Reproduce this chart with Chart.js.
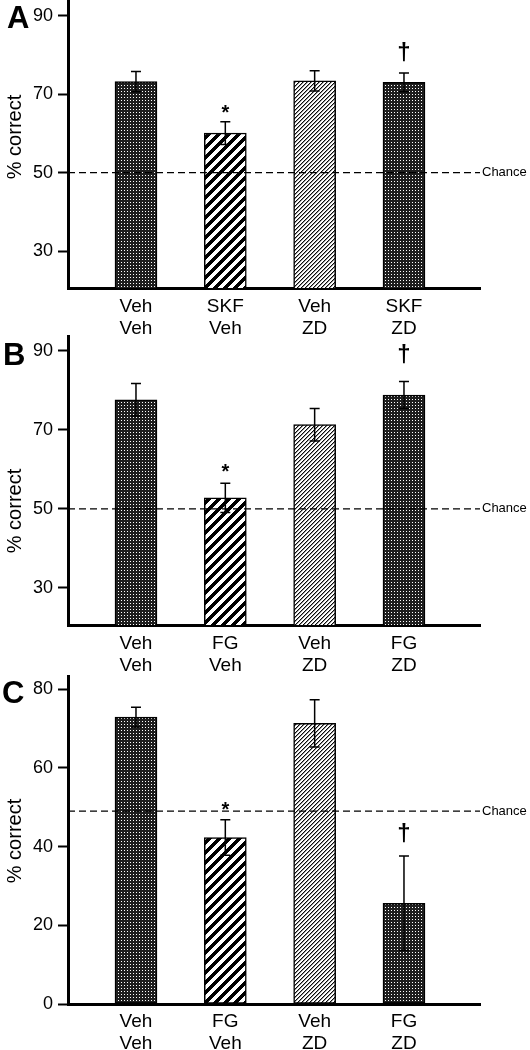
<!DOCTYPE html>
<html><head><meta charset="utf-8">
<script src="https://cdn.jsdelivr.net/npm/chart.js@4.4.1/dist/chart.umd.min.js"></script>
<style>
html,body{margin:0;padding:0;background:#fff;width:530px;height:1050px;overflow:hidden;}
canvas{position:absolute;left:0;}
</style></head><body>
<canvas id="cA" width="530" height="340" style="top:0px"></canvas>
<canvas id="cB" width="530" height="342" style="top:335px"></canvas>
<canvas id="cC" width="530" height="375" style="top:675px"></canvas>
<script>
// ---- data ----
const xPositions = [1, 2, 3, 4];
const labelsA = [["Veh","Veh"],["SKF","Veh"],["Veh","ZD"],["SKF","ZD"]];
const labelsB = [["Veh","Veh"],["FG","Veh"],["Veh","ZD"],["FG","ZD"]];
const labelsC = [["Veh","Veh"],["FG","Veh"],["Veh","ZD"],["FG","ZD"]];
const meansA = [73.2, 60.1, 73.4, 73.0];
const semA   = [2.6, 2.9, 2.6, 2.4];
const meansB = [77.6, 52.8, 71.3, 78.8];
const semB   = [4.1, 3.7, 4.1, 3.4];
const meansC = [72.9, 42.3, 71.3, 25.6];
const semC   = [2.5, 4.5, 6.0, 12.0];
const yTicksAB = [30, 50, 70, 90];
const yTicksC  = [0, 20, 40, 60, 80];
const chanceLevels = [50, 50, 49];
const markSymbols = ["", "*", "", "\u2020"];
const markA = [null, 66.7, null, 80.5];
const markB = [null, 60.6, null, 88.9];
const markC = [null, 50.6, null, 43.2];
const barPatterns = ["dots", "stripes", "hatch", "dots"];

const FONT = '"Liberation Sans", Arial, Helvetica, sans-serif';

function makePattern(ctx, type){
  const n = type === 'dots' ? 3 : (type === 'stripes' ? 10 : 4);
  const c = document.createElement('canvas');
  c.width = n; c.height = n;
  const g = c.getContext('2d');
  const img = g.createImageData(n, n);
  for (let y = 0; y < n; y++) for (let x = 0; x < n; x++) {
    let v;
    const d = (x + y) % n;
    if (type === 'dots') v = (x === 1 && y === 1) ? 255 : 30;
    else if (type === 'stripes') v = (d < 5) ? 0 : 255;
    else v = (d === 0) ? 10 : (d === 1 ? 150 : 255);
    const i = (y * n + x) * 4;
    img.data[i] = img.data[i+1] = img.data[i+2] = v; img.data[i+3] = 255;
  }
  g.putImageData(img, 0, 0);
  return ctx.createPattern(c, 'repeat');
}

const panelPlugin = {
  id: 'panel',
  afterDatasetsDraw(chart, args, o) {
    const ctx = chart.ctx;
    const {left, right} = chart.chartArea;
    const ys = chart.scales.y, xs = chart.scales.x;
    ctx.save();
    ctx.strokeStyle = '#000';
    ctx.lineWidth = 1.5;
    o.means.forEach((m, i) => {
      const x = xs.getPixelForValue(xPositions[i]);
      const yt = ys.getPixelForValue(m + o.sem[i]);
      const yb = ys.getPixelForValue(m - o.sem[i]);
      ctx.beginPath();
      ctx.moveTo(x, yt); ctx.lineTo(x, yb);
      ctx.moveTo(x - 5, yt); ctx.lineTo(x + 5, yt);
      ctx.moveTo(x - 5, yb); ctx.lineTo(x + 5, yb);
      ctx.stroke();
    });
    const yc = ys.getPixelForValue(o.chance);
    ctx.setLineDash([7, 4]);
    ctx.lineWidth = 1.3;
    ctx.beginPath(); ctx.moveTo(left, yc); ctx.lineTo(right, yc); ctx.stroke();
    ctx.setLineDash([]);
    ctx.fillStyle = '#000';
    ctx.font = '13px ' + FONT;
    ctx.textAlign = 'left'; ctx.textBaseline = 'middle';
    ctx.fillText('Chance', right + 2, yc);
    // significance marks
    ctx.textAlign = 'center'; ctx.textBaseline = 'alphabetic';
    o.marks.forEach((v, i) => {
      if (v === null) return;
      const x = xs.getPixelForValue(xPositions[i]);
      const y = ys.getPixelForValue(v);
      const s = markSymbols[i];
      if (s === '*') { ctx.font = 'bold 20px ' + FONT; ctx.fillText(s, x, y + 0.575 * 20); }
      else { ctx.font = 'bold 24px ' + FONT; ctx.fillText(s, x, y + 0.29 * 24); }
    });
    ctx.restore();
  },
  afterDraw(chart, args, o) {
    const ctx = chart.ctx;
    ctx.save();
    ctx.fillStyle = '#000';
    ctx.font = 'bold 31px ' + FONT;
    ctx.textAlign = 'left'; ctx.textBaseline = 'alphabetic';
    ctx.fillText(o.letter, o.letterX, o.letterY);
    ctx.translate(15, o.titleY);
    ctx.rotate(-Math.PI / 2);
    ctx.font = '20px ' + FONT;
    ctx.textAlign = 'center'; ctx.textBaseline = 'middle';
    ctx.fillText('% correct', 0, 0);
    ctx.restore();
  }
};

function buildChart(id, cfg) {
  const canvas = document.getElementById(id);
  const ctx = canvas.getContext('2d');
  const bg = barPatterns.map(t => makePattern(ctx, t));
  return new Chart(ctx, {
    type: 'bar',
    data: {
      datasets: [{
        data: xPositions.map((x, i) => ({x: x, y: cfg.means[i]})),
        backgroundColor: bg,
        borderColor: '#000',
        borderWidth: 1.5,
        borderSkipped: false,
        barThickness: 42
      }]
    },
    options: {
      responsive: false,
      animation: false,
      layout: {padding: {left: 0, right: 50, top: 0, bottom: 0}},
      plugins: {
        legend: {display: false},
        tooltip: {enabled: false},
        panel: {
          means: cfg.means, sem: cfg.sem, chance: cfg.chance, marks: cfg.marks,
          letter: cfg.letter, letterX: cfg.letterX, letterY: cfg.letterY, titleY: cfg.titleY
        }
      },
      scales: {
        x: {
          type: 'linear', min: 0.239, max: 4.851, offset: false,
          afterBuildTicks: s => { s.ticks = xPositions.map(v => ({value: v})); },
          afterFit: s => { s.height = cfg.xHeight; s.paddingLeft = 0; s.paddingRight = 0; },
          grid: {display: false, drawTicks: false, offset: false},
          border: {display: true, color: '#000', width: 3},
          ticks: {
            color: '#000', font: {family: FONT, size: 19, lineHeight: 1.2},
            padding: cfg.xPad, maxRotation: 0, autoSkip: false,
            callback: v => cfg.labels[xPositions.indexOf(v)]
          }
        },
        y: {
          min: cfg.yMin, max: cfg.yMax,
          afterBuildTicks: s => { s.ticks = cfg.yTicks.map(v => ({value: v})); },
          afterFit: s => { s.width = 68; s.paddingTop = 0; s.paddingBottom = 0; },
          grid: {display: true, drawOnChartArea: false, drawTicks: true, tickLength: 10, tickWidth: 2, tickColor: '#000'},
          border: {display: true, color: '#000', width: 3},
          ticks: {color: '#000', font: {family: FONT, size: 18}, padding: 5}
        }
      }
    },
    plugins: [panelPlugin]
  });
}

buildChart('cA', {labels: labelsA, means: meansA, sem: semA, chance: chanceLevels[0], marks: markA,
  yMin: 20.6, yMax: 94, yTicks: yTicksAB, xHeight: 52, xPad: 7,
  letter: 'A', letterX: 7, letterY: 28, titleY: 137});
buildChart('cB', {labels: labelsB, means: meansB, sem: semB, chance: chanceLevels[1], marks: markB,
  yMin: 20.6, yMax: 94, yTicks: yTicksAB, xHeight: 52, xPad: 7,
  letter: 'B', letterX: 3, letterY: 30, titleY: 176});
buildChart('cC', {labels: labelsC, means: meansC, sem: semC, chance: chanceLevels[2], marks: markC,
  yMin: 0, yMax: 83.6, yTicks: yTicksC, xHeight: 46, xPad: 6,
  letter: 'C', letterX: 2, letterY: 28, titleY: 166});
</script>
</body></html>
